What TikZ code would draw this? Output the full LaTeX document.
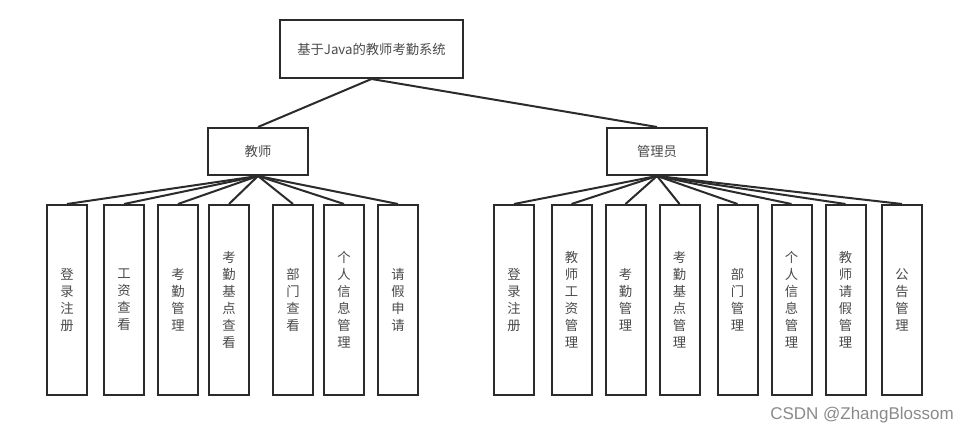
\documentclass[tikz,border=0pt]{standalone}
\usepackage{fontspec}
\setmainfont{Noto Sans CJK SC}
\newfontfamily\wmfont{Liberation Sans}
\definecolor{linec}{HTML}{2B2B2B}
\definecolor{textc}{HTML}{4A4A4A}
\definecolor{wmc}{HTML}{8A8A8A}
\begin{document}
\begin{tikzpicture}[x=1pt,y=-1pt,
  box/.style={draw=linec,line width=2pt,fill=white,text=textc,inner sep=0pt,font=\fontsize{13.3}{17}\selectfont,align=center},
  topbox/.style={box,minimum width=183pt,minimum height=58pt},
  midbox/.style={box,minimum width=100pt,minimum height=47pt},
  leaf/.style={box,minimum width=40pt,minimum height=190pt},
  conn/.style={draw=linec,line width=2pt}]
\useasboundingbox[fill=white] (0,0) rectangle (963,435);
\node[topbox] (root) at (371.5,49) {基于Java的教师考勤系统};
\node[midbox] (t) at (258,151.5) {教师};
\node[midbox] (a) at (657,151.5) {管理员};
% teacher leaves
\node[leaf] (t1) at (67,300) {登\\录\\注\\册};
\node[leaf] (t2) at (124,300) {工\\资\\查\\看};
\node[leaf] (t3) at (178,300) {考\\勤\\管\\理};
\node[leaf] (t4) at (229,300) {考\\勤\\基\\点\\查\\看};
\node[leaf] (t5) at (293,300) {部\\门\\查\\看};
\node[leaf] (t6) at (344,300) {个\\人\\信\\息\\管\\理};
\node[leaf] (t7) at (398,300) {请\\假\\申\\请};
% admin leaves
\node[leaf] (a1) at (514,300) {登\\录\\注\\册};
\node[leaf] (a2) at (571.5,300) {教\\师\\工\\资\\管\\理};
\node[leaf] (a3) at (625.5,300) {考\\勤\\管\\理};
\node[leaf] (a4) at (679.5,300) {考\\勤\\基\\点\\管\\理};
\node[leaf] (a5) at (737.5,300) {部\\门\\管\\理};
\node[leaf] (a6) at (791.5,300) {个\\人\\信\\息\\管\\理};
\node[leaf] (a7) at (845.5,300) {教\\师\\请\\假\\管\\理};
\node[leaf] (a8) at (902,300) {公\\告\\管\\理};
% connectors
\draw[conn] (root.south) -- (t.north);
\draw[conn] (root.south) -- (a.north);
\foreach \i in {1,...,7} {\draw[conn] (t.south) -- (t\i.north);}
\foreach \i in {1,...,8} {\draw[conn] (a.south) -- (a\i.north);}
\node[text=wmc,font=\wmfont\fontsize{17}{17}\selectfont,anchor=east,inner sep=0pt] (wm) at (954,415) {CSDN @ZhangBlossom};
\end{tikzpicture}
\end{document}
